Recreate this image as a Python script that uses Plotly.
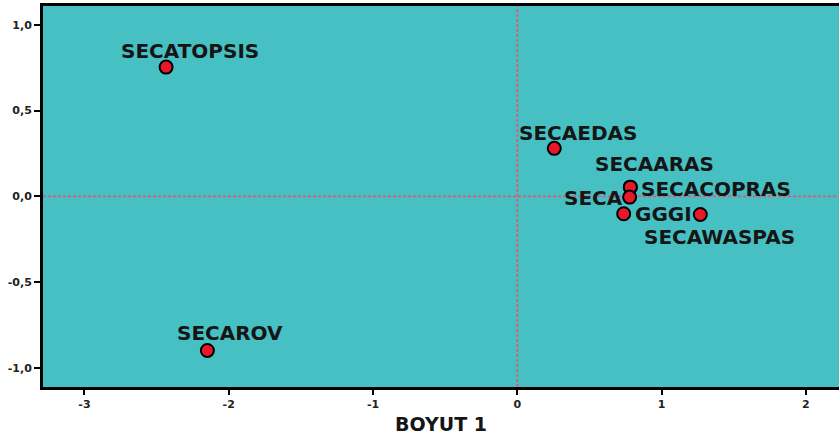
import plotly.graph_objects as go

# ---- data ----
labels = ["SECATOPSIS", "SECAEDAS", "SECAARAS", "SECACOPRAS", "SECA", "GGGI", "SECAWASPAS", "SECAROV"]
dim1 = [-2.434, 0.256, 0.783, 0.783, 0.778, 0.737, 1.268, -2.148]
dim2 = [0.753, 0.280, 0.054, 0.054, -0.004, -0.101, -0.105, -0.897]

x_ticks = [-3, -2, -1, 0, 1, 2]
x_tick_text = ["-3", "-2", "-1", "0", "1", "2"]
y_ticks = [-1.0, -0.5, 0.0, 0.5, 1.0]
y_tick_text = ["-1,0", "-0,5", "0,0", "0,5", "1,0"]

# ---- label placement styles (pixel offsets relative to each point) ----
label_style = {
    "SECATOPSIS": dict(xanchor="center", xshift=24, yshift=16),
    "SECAEDAS": dict(xanchor="center", xshift=24, yshift=15),
    "SECAARAS": dict(xanchor="center", xshift=24, yshift=23),
    "SECACOPRAS": dict(xanchor="left", xshift=9, yshift=-2),
    "SECA": dict(xanchor="right", xshift=-5, yshift=-1),
    "GGGI": dict(xanchor="left", xshift=9, yshift=0),
    "SECAWASPAS": dict(xanchor="center", xshift=19, yshift=-23),
    "SECAROV": dict(xanchor="center", xshift=23, yshift=17),
}

BG = "#47C0C3"
DASH = "#DC5878"
FONT = "DejaVu Sans"

fig = go.Figure()
fig.add_trace(go.Scatter(
    x=dim1, y=dim2, mode="markers", text=labels, hoverinfo="text",
    marker=dict(size=13, color="#E8182B", line=dict(color="black", width=2)),
    showlegend=False,
))

annotations = []
for lab, xv, yv in zip(labels, dim1, dim2):
    st = label_style[lab]
    annotations.append(dict(
        x=xv, y=yv, xref="x", yref="y", text=lab, showarrow=False,
        xanchor=st["xanchor"], yanchor="middle",
        xshift=st["xshift"], yshift=st["yshift"],
        font=dict(family=FONT, size=20, color="#151515", weight="bold"),
    ))

shapes = [
    dict(type="line", xref="x", yref="paper", x0=0, x1=0, y0=0, y1=1,
         line=dict(color=DASH, width=1.8, dash="3px,2px"), layer="below"),
    dict(type="line", xref="paper", yref="y", x0=0, x1=1, y0=0, y1=0,
         line=dict(color=DASH, width=1.8, dash="3px,2px"), layer="below"),
]

fig.update_layout(
    width=839, height=439,
    margin=dict(l=43, r=0, t=6, b=52, pad=0),
    paper_bgcolor="white", plot_bgcolor=BG,
    annotations=annotations, shapes=shapes,
    xaxis=dict(
        range=[-3.287, 2.229], tickvals=x_ticks, ticktext=x_tick_text,
        showgrid=False, zeroline=False,
        showline=True, linecolor="black", linewidth=3, mirror=True,
        ticks="outside", ticklen=5, tickwidth=1.5, tickcolor="black",
        tickfont=dict(family=FONT, size=11, color="#222", weight="bold"),
        title=dict(text="BOYUT 1", standoff=8,
                   font=dict(family=FONT, size=19, color="#151515", weight="bold")),
    ),
    yaxis=dict(
        range=[-1.11, 1.109], tickvals=y_ticks, ticktext=y_tick_text,
        showgrid=False, zeroline=False,
        showline=True, linecolor="black", linewidth=3, mirror=False,
        ticks="outside", ticklen=6, tickwidth=1.5, tickcolor="black",
        tickfont=dict(family=FONT, size=11, color="#222", weight="bold"),
    ),
)

fig.write_html(
    "out.html",
    config={"displayModeBar": False},
    post_script="document.body.style.margin='0';document.body.style.overflow='hidden';",
)
